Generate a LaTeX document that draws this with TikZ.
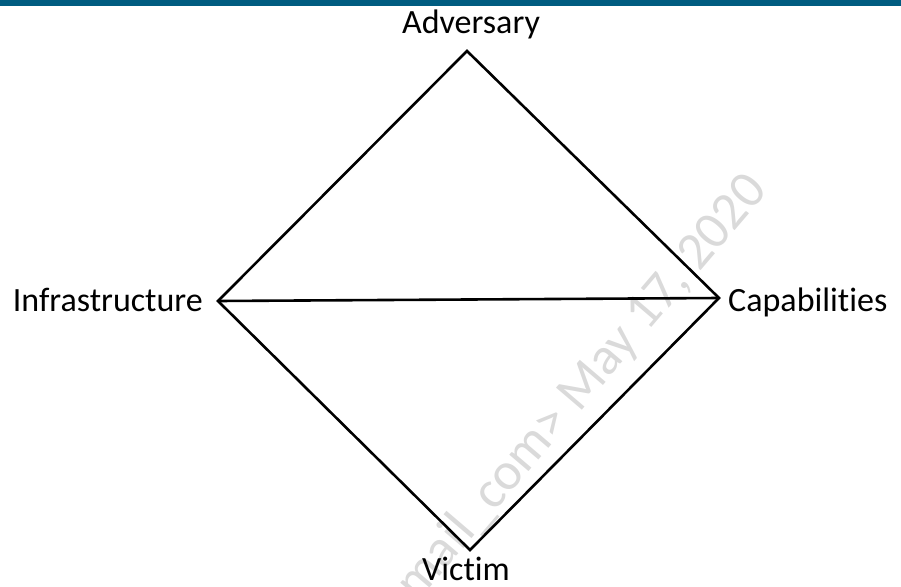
\documentclass[tikz,border=0pt]{standalone}
\usepackage{fontspec}
\setmainfont[Ligatures=CommonOff]{Carlito}
\definecolor{barcol}{RGB}{0,92,128}
\definecolor{wmark}{RGB}{218,218,218}
\tikzset{
  lbl/.style={font=\fontsize{34}{40}\selectfont, inner sep=0pt, text=black},
  edge/.style={draw=black, line width=2.6pt, line join=miter},
  wm/.style={font=\fontsize{53}{60}\selectfont, text=wmark, inner sep=0pt, rotate=49.5}
}
\begin{document}
\begin{tikzpicture}[x=1pt,y=-1pt]
\useasboundingbox (0,0) rectangle (901,586);
\begin{scope}
\clip (0,0) rectangle (901,586);
\node[wm, anchor=base east] (wmtext) at (769,191) {mail\_com> May 17, 2020};
\end{scope}
\fill[barcol] (0,0) rectangle (901,6);
\coordinate (top) at (467,51);
\coordinate (left) at (218,301);
\coordinate (right) at (719,298);
\coordinate (bottom) at (470,550);
\draw[edge] (top) -- (right) -- (bottom) -- (left) -- cycle;
\draw[edge] (left) -- (right);
\node[lbl, anchor=base] (adv) at (471,34) {Adversary};
\node[lbl, anchor=base east] (inf) at (203,311) {Infrastructure};
\node[lbl, anchor=base west] (cap) at (728,311) {Capabilities};
\node[lbl, anchor=base] (vic) at (466,580) {Victim};
\end{tikzpicture}
\end{document}
